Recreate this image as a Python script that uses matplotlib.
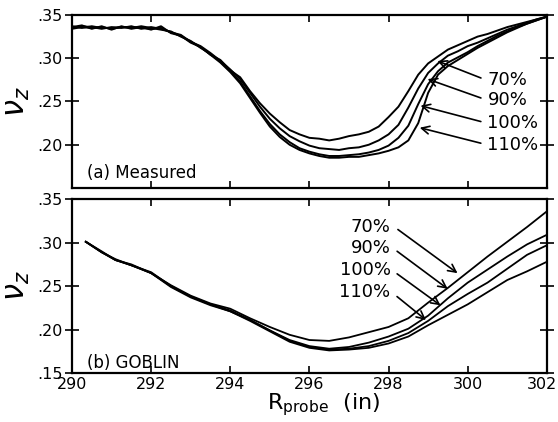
import matplotlib
matplotlib.use("Agg")
import matplotlib.pyplot as plt
import matplotlib.transforms as mtransforms
from matplotlib.ticker import FuncFormatter

plt.rcParams['font.family'] = ['DejaVu Sans']

# ---------------- data: (a) Measured ----------------
x_meas = [290.00, 290.25, 290.50, 290.75, 291.00, 291.25, 291.50, 291.75,
          292.00, 292.25, 292.50, 292.75, 293.00, 293.25, 293.50, 293.75,
          294.00, 294.25, 294.50, 294.75, 295.00, 295.25, 295.50, 295.75,
          296.00, 296.25, 296.50, 296.75, 297.00, 297.25, 297.50, 297.75,
          298.00, 298.25, 298.50, 298.75, 299.00, 299.25, 299.50, 299.75,
          300.00, 300.25, 300.50, 300.75, 301.00, 301.25, 301.50, 301.75,
          302.00]
meas_70 = [.336, .338, .334, .337, .333, .337, .334, .336,
           .333, .337, .329, .326, .318, .313, .304, .298,
           .286, .278, .262, .248, .236, .226, .217, .212,
           .208, .207, .205, .207, .210, .212, .215, .221,
           .232, .244, .262, .281, .294, .302, .310, .315,
           .320, .325, .328, .332, .336, .339, .342, .345,
           .348]
meas_90 = [.335, .337, .336, .334, .336, .335, .337, .334,
           .336, .334, .330, .327, .319, .314, .306, .297,
           .287, .276, .260, .244, .230, .219, .210, .204,
           .199, .196, .195, .194, .196, .197, .200, .205,
           .212, .223, .243, .265, .283, .294, .303, .308,
           .314, .318, .323, .328, .333, .337, .341, .345,
           .348]
meas_100 = [.337, .335, .337, .335, .335, .336, .335, .337,
            .335, .333, .331, .325, .320, .312, .305, .296,
            .285, .273, .256, .239, .224, .212, .203, .196,
            .192, .189, .187, .187, .188, .189, .191, .194,
            .199, .208, .222, .247, .270, .285, .295, .301,
            .307, .314, .320, .326, .331, .336, .340, .344,
            .348]
meas_110 = [.334, .336, .335, .336, .334, .336, .336, .335,
            .334, .335, .330, .326, .319, .313, .304, .295,
            .284, .271, .254, .237, .221, .209, .200, .194,
            .190, .187, .185, .185, .186, .186, .188, .190,
            .193, .197, .205, .225, .260, .281, .291, .298,
            .305, .312, .318, .324, .330, .335, .340, .344,
            .348]

# ---------------- data: (b) GOBLIN ----------------
x_gob = [290.35, 290.75, 291.1, 291.5, 292.0, 292.5, 293.0, 293.5, 294.0,
         294.5, 295.0, 295.5, 296.0, 296.5, 297.0, 297.5, 298.0, 298.5,
         299.0, 299.5, 300.0, 300.5, 301.0, 301.5, 302.0]
gob_70 = [.301, .289, .280, .274, .265, .251, .239, .230, .224,
          .213, .203, .194, .188, .187, .191, .197, .203, .213,
          .231, .248, .266, .284, .301, .318, .336]
gob_90 = [.301, .289, .281, .274, .266, .250, .238, .229, .221,
          .211, .199, .188, .181, .178, .180, .185, .192, .201,
          .216, .236, .254, .269, .284, .298, .309]
gob_100 = [.301, .289, .280, .275, .265, .250, .238, .229, .222,
           .211, .199, .187, .180, .177, .178, .181, .187, .196,
           .210, .227, .241, .254, .270, .286, .297]
gob_110 = [.301, .290, .280, .274, .265, .249, .237, .228, .221,
           .210, .198, .186, .179, .176, .177, .179, .184, .192,
           .205, .217, .229, .243, .257, .267, .278]

labels = ['70%', '90%', '100%', '110%']
meas_series = [meas_70, meas_90, meas_100, meas_110]
gob_series = [gob_70, gob_90, gob_100, gob_110]

# annotation anchors (data coords)
meas_heads = [(299.17, .298), (298.92, .277), (298.74, .246), (298.72, .2205)]
meas_tails = [(300.40, .276), (300.40, .253), (300.40, .226), (300.40, .201)]
meas_text_y = [.275, .252, .225, .200]
gob_heads = [(299.80, .263), (299.55, .245), (299.37, .226), (299.00, .209)]
gob_tails = [(298.18, .317), (298.16, .292), (298.16, .266), (298.16, .240)]
gob_text_y = [.318, .294, .268, .243]

xticks = [290, 292, 294, 296, 298, 300, 302]

fig = plt.figure(figsize=(5.58, 4.22), dpi=100)
ax1 = fig.add_axes([0.129, 0.5545, 0.851, 0.410])
ax2 = fig.add_axes([0.129, 0.116, 0.851, 0.412])

fmt = FuncFormatter(lambda v, p: ('%.2f' % v).lstrip('0'))

for ax in (ax1, ax2):
    ax.set_xlim(290, 302)
    ax.set_ylim(0.15, 0.35)
    ax.set_xticks(xticks)
    ax.yaxis.set_major_formatter(fmt)
    for s in ax.spines.values():
        s.set_linewidth(1.6)
    ax.tick_params(axis='x', direction='in', top=True, bottom=True, length=5,
                   width=1.2, labelsize=11.5, pad=3)
    ax.tick_params(axis='y', which='major', direction='inout', left=True,
                   length=10, width=1.2, labelsize=11.5, pad=2)
    ax.tick_params(axis='y', right=True)
    ax.set_ylabel(r'$\nu_z$', fontsize=22)
    ax.yaxis.set_label_coords(-0.085, 0.5)

ax1.set_yticks([.20, .25, .30, .35])
ax2.set_yticks([.15, .20, .25, .30, .35])
ax1.tick_params(axis='x', labelbottom=False)

# nudge the last x tick label so it stays inside the canvas
last_lab = ax2.get_xticklabels()[-1]
last_lab.set_transform(last_lab.get_transform() +
                       mtransforms.ScaledTranslation(-5 / 100, 0, fig.dpi_scale_trans))

for ys in meas_series:
    ax1.plot(x_meas, ys, color='black', lw=1.4)
for ys in gob_series:
    ax2.plot(x_gob, ys, color='black', lw=1.3)

for lab, h, t, ty in zip(labels, meas_heads, meas_tails, meas_text_y):
    ax1.annotate('', xy=h, xytext=t,
                 arrowprops=dict(arrowstyle='->', color='black', lw=1.2,
                                 mutation_scale=14))
    ax1.text(300.5, ty, lab, ha='left', va='center', fontsize=13)

for lab, h, t, ty in zip(labels, gob_heads, gob_tails, gob_text_y):
    ax2.annotate('', xy=h, xytext=t,
                 arrowprops=dict(arrowstyle='->', color='black', lw=1.2,
                                 mutation_scale=14))
    ax2.text(298.05, ty, lab, ha='right', va='center', fontsize=13)

ax1.text(290.38, .167, '(a) Measured', ha='left', va='center', fontsize=12)
ax2.text(290.38, .161, '(b) GOBLIN', ha='left', va='center', fontsize=12)

ax2.set_xlabel(r'R$_{\mathrm{probe}}$  (in)', fontsize=16, labelpad=0)
ax2.xaxis.set_label_coords(0.53, -0.105)

fig.savefig('out.png', dpi=100)
